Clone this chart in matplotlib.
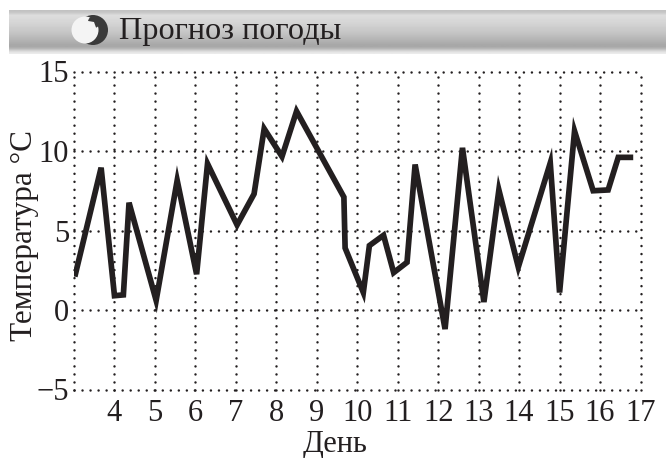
import numpy as np
import matplotlib
matplotlib.use('Agg')
import matplotlib.pyplot as plt
from matplotlib.patches import Circle, Wedge

day = [3.02, 3.67, 4.0, 4.22, 4.36, 5.03, 5.55, 6.03, 6.3, 7.03, 7.45, 7.7, 8.14, 8.5,
       9.67, 9.7, 10.15, 10.3, 10.65, 10.9, 11.23, 11.43, 12.17, 12.6, 13.13, 13.5,
       13.98, 14.77, 15.0, 15.37, 15.83, 16.2, 16.45, 16.82]
temp = [2.1, 8.95, 0.9, 0.95, 6.75, 0.6, 8.15, 2.25, 9.2, 5.35, 7.3, 11.4, 9.65, 12.5,
        7.1, 3.9, 1.1, 4.05, 4.7, 2.35, 3.0, 9.15, -1.2, 10.2, 0.5, 7.55,
        2.7, 9.25, 1.1, 11.25, 7.5, 7.55, 9.6, 9.6]
x_ticks = [4, 5, 6, 7, 8, 9, 10, 11, 12, 13, 14, 15, 16, 17]
y_ticks = [-5, 0, 5, 10, 15]

W, H = 666, 458
INK = '#231f20'
plt.rcParams['font.family'] = ['Liberation Serif', 'DejaVu Serif']
fig = plt.figure(figsize=(W / 100, H / 100), dpi=100)

# grey title strip
bar = fig.add_axes([9 / W, 1 - 54 / H, (W - 9) / W, 44 / H])
shade = np.array([0.76, 0.80, 0.87, 0.86, 0.85, 0.84, 0.83, 0.82, 0.80, 0.79, 0.78, 0.76,
                  0.74, 0.72, 0.70, 0.68, 0.66, 0.66, 0.72, 0.84, 0.92])
bar.imshow(shade[:, None], cmap='gray', vmin=0, vmax=1, aspect='auto', interpolation='bilinear')
bar.axis('off')

# swirl icon
ic = fig.add_axes([70 / W, 1 - 49 / H, 40 / W, 38 / H])
ic.set_xlim(70, 110)
ic.set_ylim(49, 11)
ic.axis('off')
ic.add_patch(Circle((93, 30), 15, color='#3a3a3a', lw=0))
ic.add_patch(Circle((85, 30), 13.5, color='#f4f4f4', lw=0))
ic.add_patch(Wedge((94, 22), 6, 190, 70, color='#3a3a3a', lw=0))

fig.text(119 / W, 1 - 32 / H, 'Прогноз погоды', fontsize=23.2, color=INK,
         va='center', ha='left')

ax = fig.add_axes([74 / W, 1 - 389.5 / H, (640.5 - 74) / W, (389.5 - 71.5) / H])
ax.plot(day, temp, color=INK, lw=4.1, solid_joinstyle='miter', solid_capstyle='butt',
        zorder=3)
ax.set_xlim(3, 17)
ax.set_ylim(-5, 15)
ax.set_xticks([3] + x_ticks, [''] + [str(v) for v in x_ticks])
ax.set_yticks(y_ticks)
ax.set_yticklabels(['\u2212' + str(abs(v)) if v < 0 else str(v) for v in y_ticks])
ax.grid(True, color=INK, lw=1.8, linestyle=(0, (0.01, 3.2)))
for ln in ax.get_xgridlines() + ax.get_ygridlines():
    ln.set_clip_on(False)
    ln.set_dash_capstyle('round')
ax.set_axisbelow(True)
for s in ax.spines.values():
    s.set_visible(False)
ax.tick_params(length=0, labelsize=22, labelcolor=INK, pad=3.5)
ax.tick_params(axis='x', pad=7)
ax.set_xlabel('День', fontsize=22, color=INK, labelpad=1.5, x=0.46)
ax.set_ylabel('Температура °C', fontsize=22.5, color=INK, labelpad=-2, y=0.485)

fig.savefig('out.png', dpi=100)
